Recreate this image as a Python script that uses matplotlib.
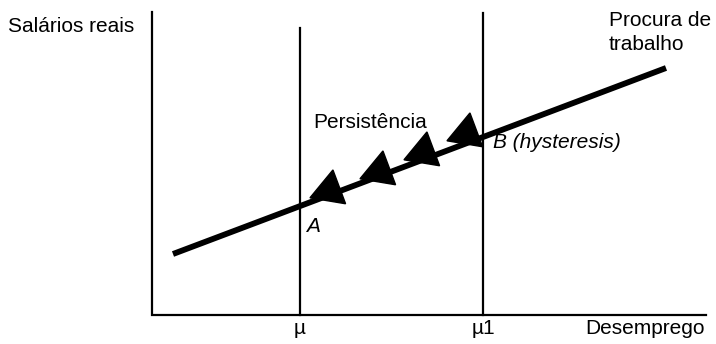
import matplotlib
matplotlib.use('Agg')
import matplotlib.pyplot as plt

plt.rcParams['font.family'] = ['Liberation Sans', 'DejaVu Sans']

# diagram coordinates (pixel-like units, y grows downward)
axis_x = [152, 152, 706]
axis_y = [12, 315, 315]
mu_x = [300, 483]          # niveis de desemprego mu e mu1
mu_top = [28, 13]
demand_x = [173, 666]      # curva de procura de trabalho
demand_y = [254, 68]
arrow_x = [329, 379, 423, 466]   # setas de persistencia
arrow_y = [190, 171, 152, 133]

fig = plt.figure(figsize=(7.16, 3.44), dpi=100)
ax = fig.add_axes([0, 0, 1, 1])
ax.set_xlim(0, 716)
ax.set_ylim(344, 0)
ax.axis('off')

ax.plot(axis_x, axis_y, color='black', lw=1.6, solid_joinstyle='miter')
for x, top in zip(mu_x, mu_top):
    ax.plot([x, x], [top, 315], color='black', lw=1.6)
ax.plot(demand_x, demand_y, color='black', lw=4.2, solid_capstyle='butt')
ax.plot(arrow_x, arrow_y, linestyle='none', marker=(3, 0, 110.5),
        markersize=30, color='black')

fs = 15
ax.text(8, 27, 'Salários reais', fontsize=fs, va='center', ha='left')
ax.text(609, 20, 'Procura de', fontsize=fs, va='center', ha='left')
ax.text(609, 45, 'trabalho', fontsize=fs, va='center', ha='left')
ax.text(313, 122, 'Persistência', fontsize=fs, va='center', ha='left')
ax.text(493, 142, 'B (hysteresis)', fontsize=fs, va='center', ha='left',
        style='italic')
ax.text(306, 226, 'A', fontsize=fs, va='center', ha='left', style='italic')
ax.text(300, 328, 'µ', fontsize=fs, va='center', ha='center')
ax.text(483, 328, 'µ1', fontsize=fs, va='center', ha='center')
ax.text(705, 328, 'Desemprego', fontsize=fs, va='center', ha='right')

fig.savefig('out.png', dpi=100, facecolor='white')
